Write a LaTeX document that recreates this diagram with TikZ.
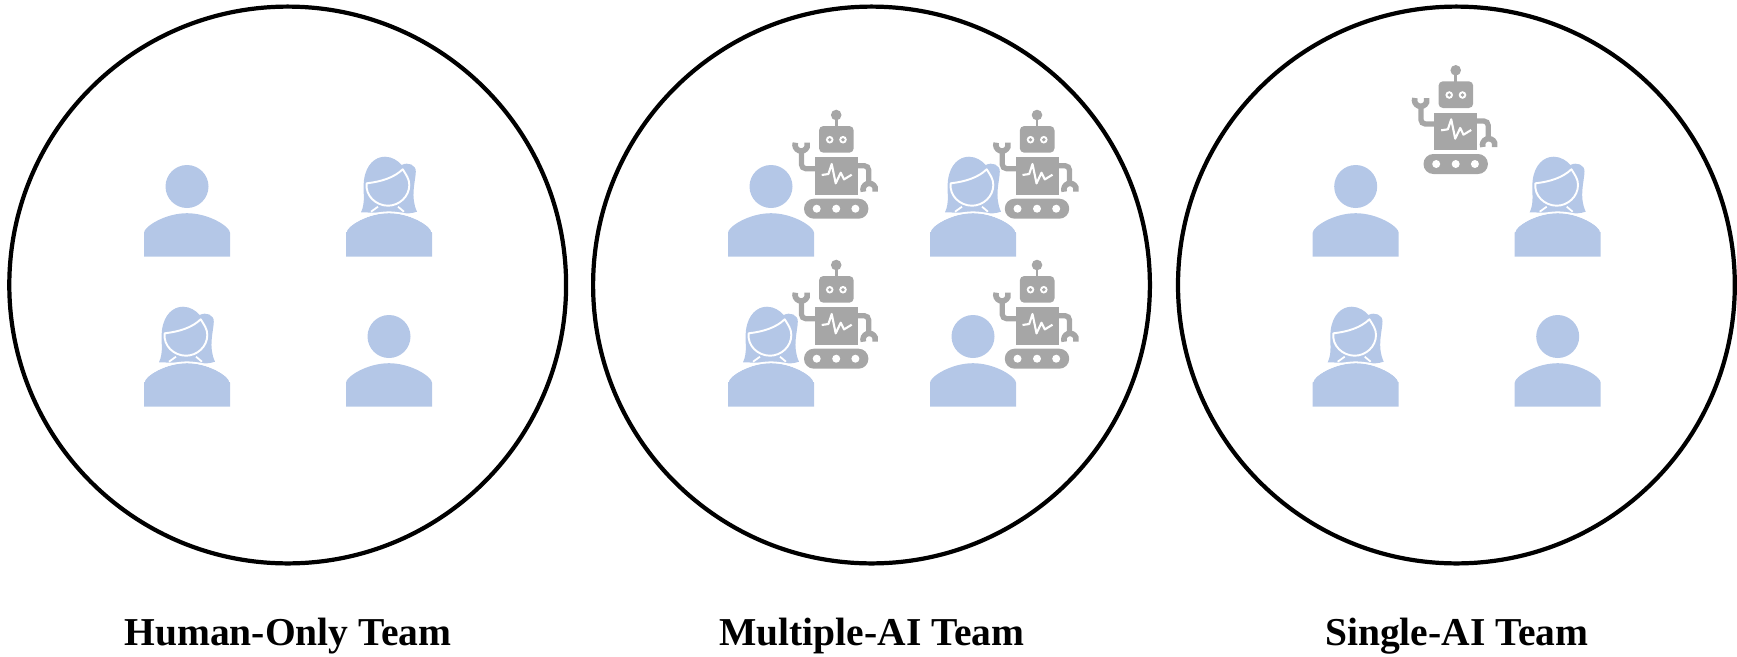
\documentclass[tikz,border=0pt]{standalone}
\usepackage{fontspec}
\setmainfont{Liberation Serif}
\definecolor{HumanClr}{RGB}{180,199,231}
\definecolor{RobotClr}{RGB}{166,166,166}
\tikzset{
  teamcircle/.style={black,line width=2.4pt},
  teamlabel/.style={font=\fontsize{22.5}{26}\selectfont\bfseries,text=black,inner sep=0pt},
  manpic/.pic={
    \fill[HumanClr] (0,-70.2) circle (21.5);
    \fill[HumanClr] (-43,0) -- (-43,-24) .. controls (-43,-30) and (-22,-43.5) .. (0,-43.5)
      .. controls (22,-43.5) and (43,-30) .. (43,-24) -- (43,0) -- cycle;
  },
  womanpic/.pic={
    % hair
    \fill[HumanClr] (-28,-44.4) .. controls (-23,-55) and (-26.5,-65) .. (-25,-76.7)
      .. controls (-23,-92) and (-14,-100) .. (-4,-100)
      .. controls (3,-100) and (9,-96) .. (12.7,-91.7)
      .. controls (19,-95) and (27,-92) .. (26.8,-85)
      .. controls (26.5,-75) and (21,-60) .. (28,-45)
      .. controls (22,-43) and (17,-43) .. (14,-44) -- (-14,-44) -- cycle;
    % body
    \fill[HumanClr] (-43,0) -- (-43,-24) .. controls (-43,-30) and (-22,-43.5) .. (0,-43.5)
      .. controls (22,-43.5) and (43,-30) .. (43,-24) -- (43,0) -- cycle;
    \draw[white,line width=.9pt] (-43,-25) .. controls (-43,-31) and (-22,-44.5) .. (0,-44.5)
      .. controls (22,-44.5) and (43,-31) .. (43,-25);
    % face
    \draw[white,line width=1pt] (-11,-50) -- (-18,-45) (9,-50) -- (15,-45);
    \fill[HumanClr,draw=white,line width=1.1pt,line join=round] (-22.3,-73.4) .. controls (-8,-75) and (5,-79) .. (13.7,-87.4)
      .. controls (17,-82) and (20.3,-78) .. (20.3,-71.7)
      .. controls (20.3,-60) and (10,-51) .. (-1,-51)
      .. controls (-13,-51) and (-24,-61) .. (-22.3,-73.4) -- cycle;
  },
  robotpic/.pic={
    % antenna and head
    \draw[RobotClr,line width=1.6pt] (0,-60) -- (0,-48);
    \fill[RobotClr] (0,-60.7) circle (5.3);
    \fill[RobotClr,rounded corners=2.5pt] (-17.2,-49.7) rectangle (17.5,-23);
    \foreach \ex in {-6.5,6.8} {
      \fill[white] (\ex,-36) circle (3.8);
      \fill[RobotClr] (\ex,-36) circle (1.9);
    }
    % arms
    \draw[RobotClr,line width=3pt,rounded corners=2.5pt] (-21,-7) -- (-34.8,-7) -- (-34.8,-27);
    \draw[RobotClr,line width=3.2pt] (-40.8,-33) arc[start angle=200,end angle=-20,radius=6.2];
    \draw[RobotClr,line width=3pt,rounded corners=2.5pt] (21,-10) -- (32.5,-10) -- (32.5,7);
    \draw[RobotClr,line width=3.2pt] (27.2,16) arc[start angle=160,end angle=380,radius=6.2];
    % body
    \fill[RobotClr] (-21.3,-18.5) rectangle (21.7,19);
    \draw[white,line width=1.2pt,line join=round] (-14.5,-.7) -- (-7.8,-1.7) -- (-4.5,-11.7) -- (-.5,7.7)
      -- (4.5,-3) -- (7.8,3.7) -- (15.5,-1);
    % tread
    \fill[RobotClr,rounded corners=5.6pt] (-32.2,23) rectangle (32.2,43);
    \foreach \wx in {-19.5,0,19.2} {
      \fill[white] (\wx,33) circle (4);
    }
  }
}
\begin{document}
\begin{tikzpicture}[x=.02cm,y=-.02cm]
\useasboundingbox (0,0) rectangle (1737,656);

\draw[teamcircle] (287.7,285) circle (278.4);
\draw[teamcircle] (871.5,285) circle (278.4);
\draw[teamcircle] (1456.4,285) circle (278.4);

% human-only team
\pic at (187,256.7) {manpic};
\pic at (389,256.7) {womanpic};
\pic at (187,406.7) {womanpic};
\pic at (389,406.7) {manpic};

% multiple-AI team
\pic at (771,256.7) {manpic};
\pic at (973,256.7) {womanpic};
\pic at (771,406.7) {womanpic};
\pic at (973,406.7) {manpic};
\pic at (836.2,175.7) {robotpic};
\pic at (1037,175.7) {robotpic};
\pic at (836.2,325.7) {robotpic};
\pic at (1037,325.7) {robotpic};

% single-AI team
\pic at (1355.7,256.7) {manpic};
\pic at (1557.7,256.7) {womanpic};
\pic at (1355.7,406.7) {womanpic};
\pic at (1557.7,406.7) {manpic};
\pic at (1455.7,131) {robotpic};

\node[teamlabel] (humanlbl) at (288,636) {Human-Only Team};
\node[teamlabel] (multilbl) at (871.8,636) {Multiple-AI Team};
\node[teamlabel] (singlelbl) at (1456.8,636) {Single-AI Team};

\end{tikzpicture}
\end{document}
